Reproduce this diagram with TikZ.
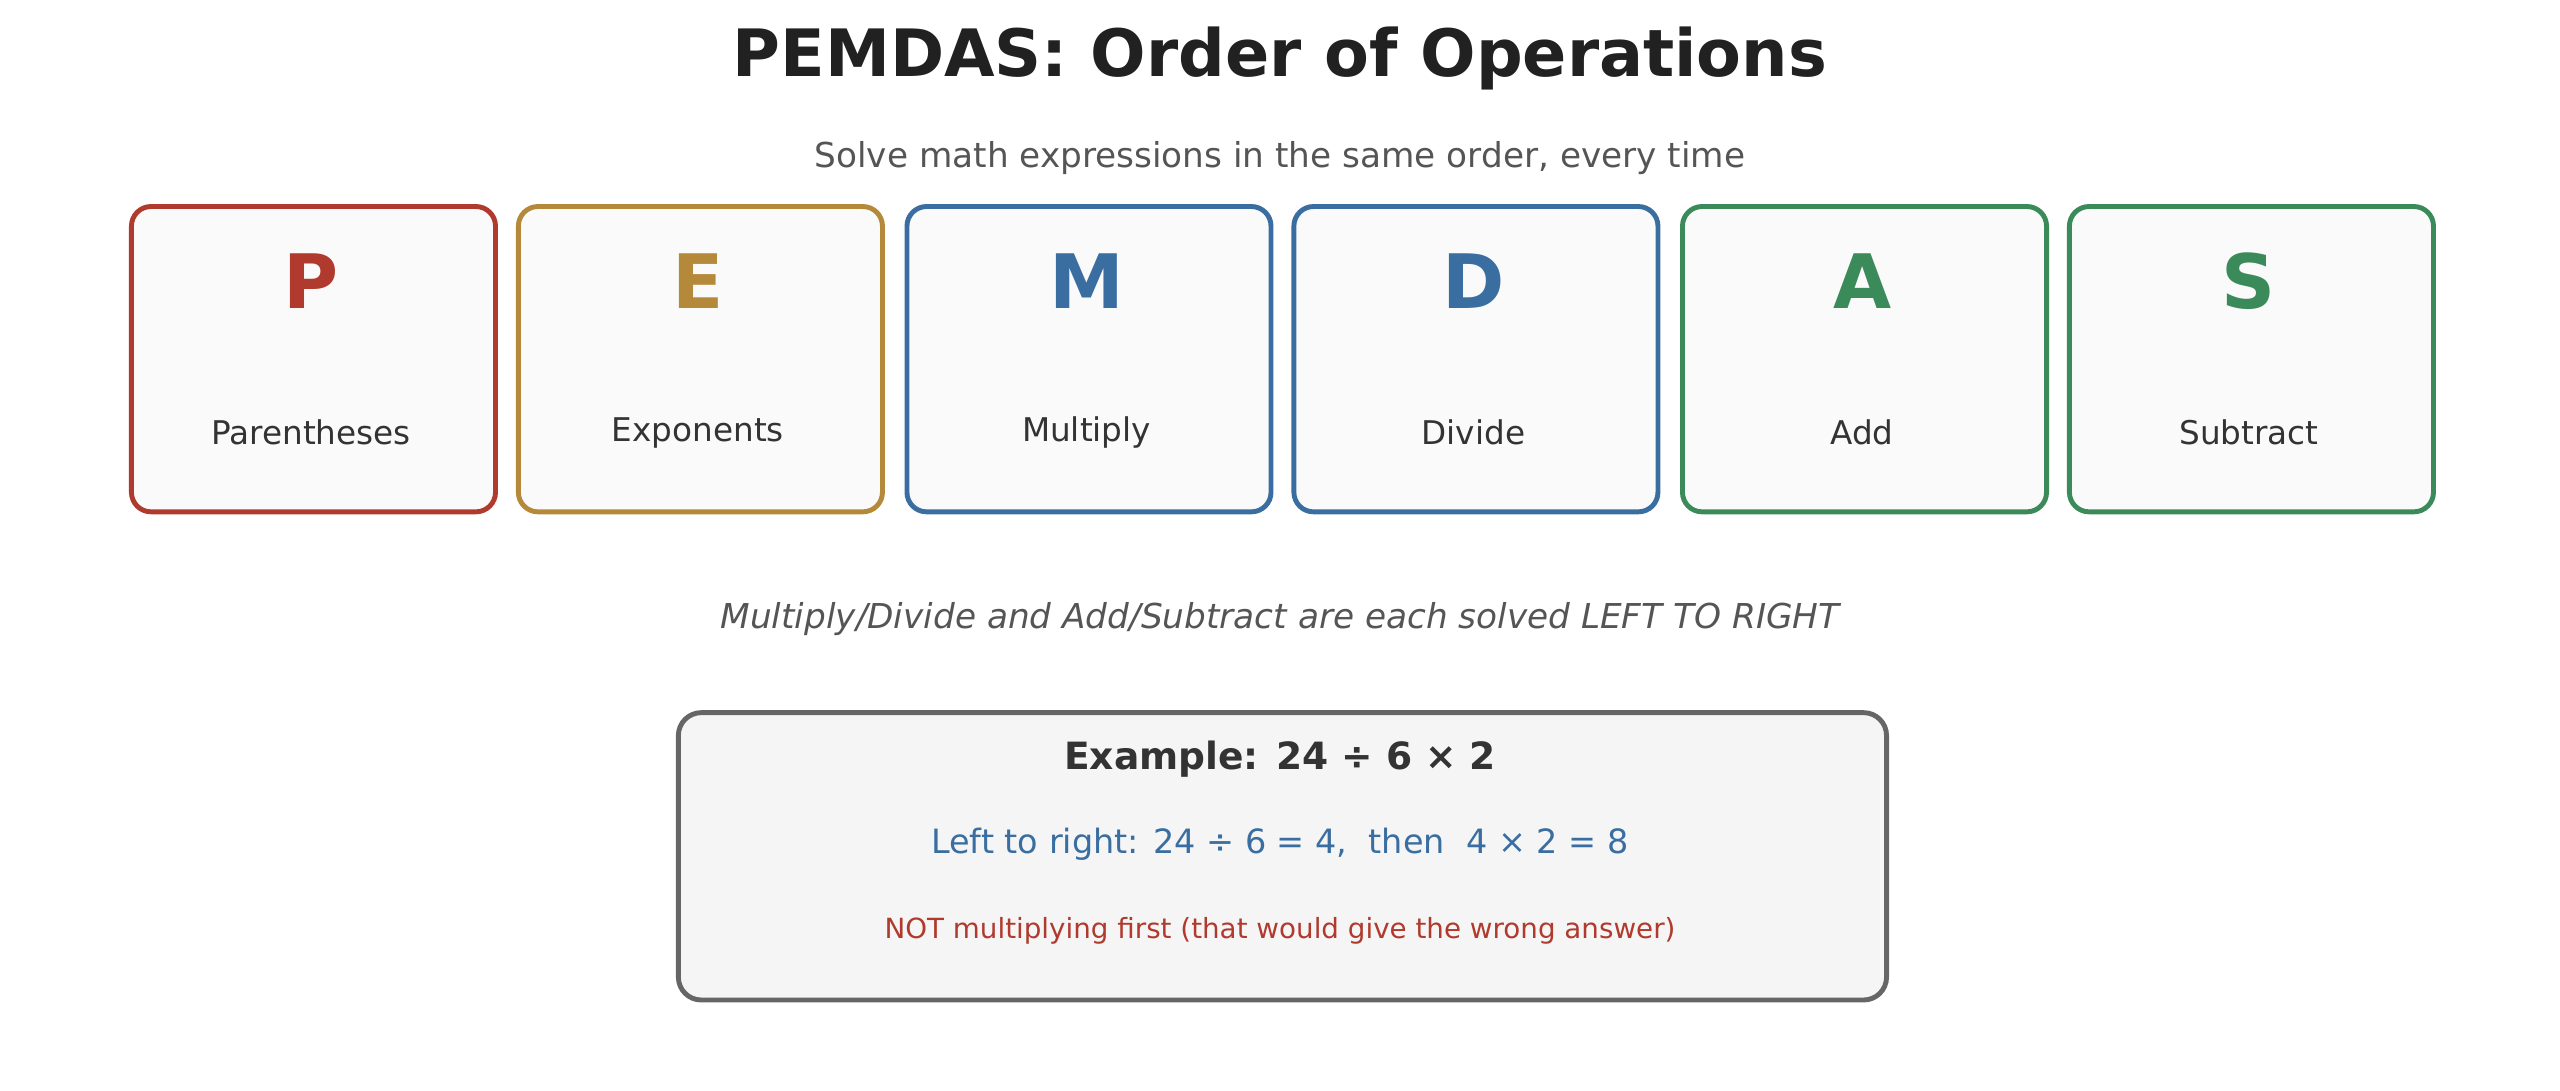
\documentclass[tikz,border=0pt]{standalone}
\usepackage{fontspec}
\setmainfont{DejaVu Sans}
\definecolor{cR}{HTML}{B03A2E}
\definecolor{cG}{HTML}{B5893A}
\definecolor{cB}{HTML}{3A6EA0}
\definecolor{cN}{HTML}{3A8A5A}
\definecolor{dk}{HTML}{333333}
\definecolor{gy}{HTML}{555555}
\begin{document}
\begin{tikzpicture}[x=1pt,y=-1pt,
  card/.style={draw=#1,line width=3pt,fill=black!2,rounded corners=12pt,minimum width=223pt,minimum height=187pt,anchor=north west,inner sep=0pt},
  big/.style={text=#1,font=\fontsize{46}{50}\selectfont\bfseries},
  lab/.style={text=dk,font=\fontsize{20}{24}\selectfont}]
\useasboundingbox (0,0) rectangle (1568,668);
\node[text=black!87,font=\fontsize{40}{44}\selectfont\bfseries] (title) at (784,36) {PEMDAS: Order of Operations};
\node[text=gy,font=\fontsize{21}{25}\selectfont] (sub) at (784,97) {Solve math expressions in the same order, every time};
\foreach \n/\x/\c/\L/\T in {p/79/cR/P/Parentheses,e/316/cG/E/Exponents,m/554/cB/M/Multiply,d/791/cB/D/Divide,a/1029/cN/A/Add,s/1266/cN/S/Subtract}{
  \node[card=\c] (\n) at (\x,125) {};
  \node[big=\c] (\n L) at (\x+111.5,172) {\L};
  \node[lab] (\n T) at (\x+111.5,265) {\T};
}
\node[text=gy,font=\fontsize{21}{25}\selectfont\itshape] (note) at (784,379) {Multiply/Divide and Add/Subtract are each solved LEFT TO RIGHT};
\node[draw=black!60,line width=3pt,fill=black!4,rounded corners=14pt,minimum width=740pt,minimum height=176pt,anchor=north west] (ex) at (414,435) {};
\node[text=dk,font=\fontsize{23}{27}\selectfont\bfseries] (ex1) at (784,465) {Example: 24 ÷ 6 × 2};
\node[text=cB,font=\fontsize{20.5}{24}\selectfont] (ex2) at (784,517) {Left to right: 24 ÷ 6 = 4,\ \ then\ \ 4 × 2 = 8};
\node[text=cR,font=\fontsize{17}{20}\selectfont] (ex3) at (784,570) {NOT multiplying first (that would give the wrong answer)};
\end{tikzpicture}
\end{document}
